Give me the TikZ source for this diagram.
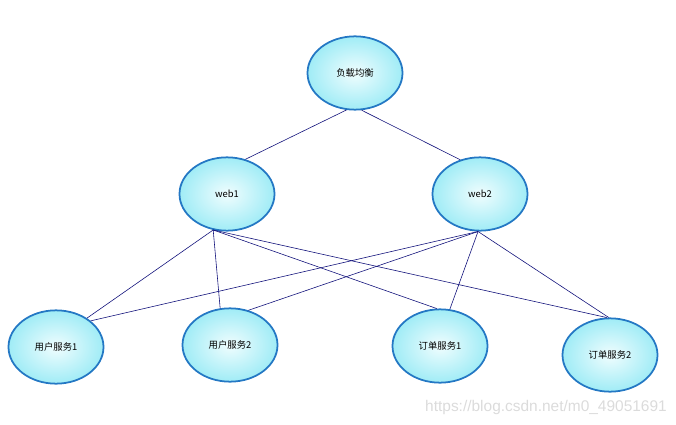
\documentclass[tikz,border=0pt]{standalone}
\usepackage{fontspec}
\newfontfamily\cjk{Noto Sans CJK SC}
\setsansfont{Liberation Sans}
\usetikzlibrary{shapes.geometric}
\definecolor{rim}{HTML}{2478C4}
\definecolor{inner}{HTML}{F0FDFE}
\definecolor{outer}{HTML}{A0ECF6}
\definecolor{wire}{HTML}{10107A}
\begin{document}
\begin{tikzpicture}[x=0.03cm,y=-0.03cm,
	svc/.style={ellipse,draw=rim,line width=1.5pt,inner sep=0pt,
		minimum width=2.85cm,minimum height=2.2cm,
		shading=radial,inner color=inner,outer color=outer,
		font=\cjk\fontsize{8}{9}\selectfont},
	wire/.style={draw=wire,line width=0.5pt}]
	\useasboundingbox (0,0) rectangle (676,425);

	% top level
	\node[svc] (lb) at (355,73) {负载均衡};

	% web layer
	\node[svc] (web1) at (227,194) {web1};
	\node[svc] (web2) at (480,194) {web2};

	% services
	\node[svc] (u1) at (56,347) {用户服务1};
	\node[svc] (u2) at (230,345) {用户服务2};
	\node[svc] (o1) at (440,346) {订单服务1};
	\node[svc] (o2) at (610,355) {订单服务2};

	\draw[wire] (lb.257)--(web1.62);
	\draw[wire] (lb.280)--(web2.120);

	\draw[wire] (web1.249)--(u1.43);
	\draw[wire] (web1.249)--(u2.105);
	\draw[wire] (web1.249)--(o1.95);
	\draw[wire] (web1.249)--(o2.95);

	\draw[wire] (web2.267)--(u1.37);
	\draw[wire] (web2.267)--(u2.62);
	\draw[wire] (web2.267)--(o1.75);
	\draw[wire] (web2.267)--(o2.92);

	\node[text=black!14,font=\sffamily\fontsize{13.2}{15}\selectfont] (mark) at (546,407) {https://blog.csdn.net/m0\_49051691};
\end{tikzpicture}
\end{document}
